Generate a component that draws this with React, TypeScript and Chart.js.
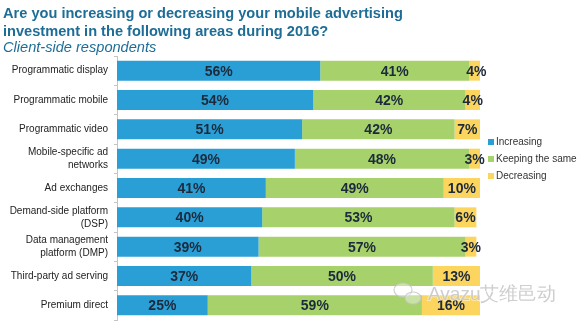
import React, { useEffect, useRef } from "react";
import { Chart, registerables } from "chart.js";

Chart.register(...registerables);

const categories: (string | string[])[] = [
  "Programmatic display",
  "Programmatic mobile",
  "Programmatic video",
  ["Mobile-specific ad", "networks"],
  "Ad exchanges",
  ["Demand-side platform", "(DSP)"],
  ["Data management", "platform (DMP)"],
  "Third-party ad serving",
  "Premium direct",
];
const increasing = [56, 54, 51, 49, 41, 40, 39, 37, 25];
const keepingSame = [41, 42, 42, 48, 49, 53, 57, 50, 59];
const decreasing = [4, 4, 7, 3, 10, 6, 3, 13, 16];
const seriesNames = ["Increasing", "Keeping the same", "Decreasing"];
const titleLines = [
  "Are you increasing or decreasing your mobile advertising",
  "investment in the following areas during 2016?",
];
const subtitle = "Client-side respondents";
const watermark = "Avazu艾维邑动";

const BLUE = "#2a9fd6";
const GREEN = "#a6d16b";
const YELLOW = "#fcd55e";
const FONT = "'Liberation Sans', Arial, Helvetica, sans-serif";

const decorPlugin = {
  id: "decor",
  afterDatasetsDraw(chart: any) {
    const ctx = chart.ctx;
    ctx.save();
    ctx.font = `bold 14px ${FONT}`;
    ctx.fillStyle = "#1c2a3c";
    ctx.textAlign = "center";
    ctx.textBaseline = "middle";
    chart.data.datasets.forEach((ds: any, di: number) => {
      const meta = chart.getDatasetMeta(di);
      meta.data.forEach((bar: any, i: number) => {
        const left = Math.min(bar.x, bar.base);
        const right = Math.max(bar.x, bar.base);
        ctx.fillText(ds.data[i] + "%", (left + right) / 2, bar.y + 1);
      });
    });
    ctx.restore();
  },
  afterDraw(chart: any) {
    const ctx = chart.ctx;
    ctx.save();
    // title
    ctx.fillStyle = "#1e6d96";
    ctx.textAlign = "left";
    ctx.textBaseline = "alphabetic";
    ctx.font = `bold 14.6px ${FONT}`;
    titleLines.forEach((t, i) => ctx.fillText(t, 3, 18 + i * 18));
    ctx.font = `italic 14.6px ${FONT}`;
    ctx.fillText(subtitle, 3, 52);
    // legend
    const colors = [BLUE, GREEN, YELLOW];
    ctx.font = `10px ${FONT}`;
    ctx.textBaseline = "middle";
    seriesNames.forEach((n, i) => {
      const y = 142 + i * 17;
      ctx.fillStyle = colors[i];
      ctx.fillRect(488, y - 3, 6, 6);
      ctx.fillStyle = "#333";
      ctx.fillText(n, 496, y);
    });
    // watermark
    ctx.globalAlpha = 0.8;
    ctx.strokeStyle = "#c4c4c4";
    ctx.fillStyle = "rgba(255,255,255,0.5)";
    ctx.lineWidth = 1.2;
    ctx.beginPath();
    ctx.ellipse(403, 290, 9, 7, 0, 0, Math.PI * 2);
    ctx.fill();
    ctx.stroke();
    ctx.beginPath();
    ctx.ellipse(413, 298, 8, 6, 0, 0, Math.PI * 2);
    ctx.fill();
    ctx.stroke();
    ctx.font = `19px ${FONT}`;
    ctx.textBaseline = "middle";
    ctx.lineWidth = 2;
    ctx.strokeStyle = "rgba(255,255,255,0.6)";
    ctx.strokeText(watermark, 428, 295);
    ctx.fillStyle = "#c2c2c2";
    ctx.fillText(watermark, 428, 295);
    ctx.restore();
  },
};

export default function App() {
  const ref = useRef<HTMLCanvasElement>(null);
  useEffect(() => {
    if (!ref.current) return;
    const chart = new Chart(ref.current, {
      type: "bar",
      data: {
        labels: categories,
        datasets: [
          { label: seriesNames[0], data: increasing, backgroundColor: BLUE },
          { label: seriesNames[1], data: keepingSame, backgroundColor: GREEN },
          { label: seriesNames[2], data: decreasing, backgroundColor: YELLOW },
        ].map((d) => ({
          ...d,
          barPercentage: 0.68,
          categoryPercentage: 1,
          borderWidth: 0,
        })),
      },
      options: {
        indexAxis: "y",
        animation: false,
        responsive: false,
        maintainAspectRatio: false,
        layout: { padding: { top: 56, right: 100, bottom: 4, left: 0 } },
        plugins: {
          legend: { display: false },
          tooltip: { enabled: false },
          title: { display: false },
        },
        scales: {
          x: { stacked: true, min: 0, max: 100, display: false },
          y: {
            stacked: true,
            grid: {
              display: true,
              offset: true,
              drawOnChartArea: false,
              drawTicks: true,
              tickLength: 3,
              color: "#c4c4c4",
            },
            border: { display: true, color: "#c4c4c4" },
            ticks: {
              padding: 6,
              color: "#222",
              font: { family: FONT, size: 10, lineHeight: 1.3 },
            },
            afterFit(scale: any) {
              scale.width = 117;
              scale.paddingTop = 0;
              scale.paddingBottom = 0;
            },
          },
        },
      },
      plugins: [decorPlugin],
    } as any);
    return () => chart.destroy();
  }, []);
  return (
    <div style={{ position: "fixed", left: 0, top: 0, width: 580, height: 324, background: "#fff" }}>
      <canvas ref={ref} width={580} height={324} style={{ width: 580, height: 324 }} />
    </div>
  );
}
